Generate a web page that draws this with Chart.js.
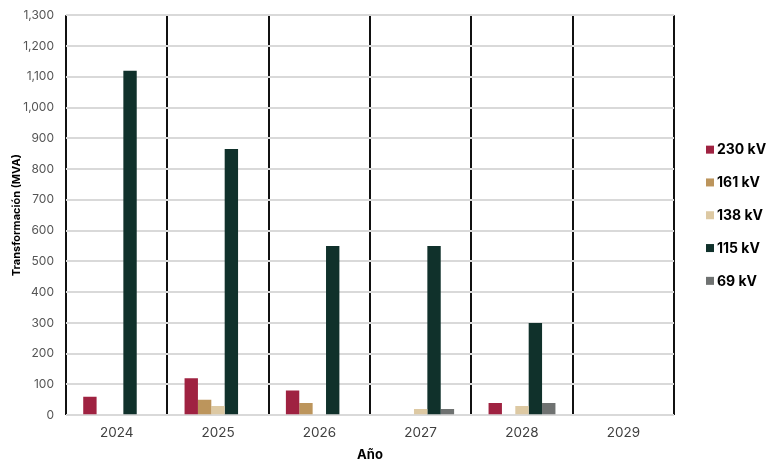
<!DOCTYPE html>
<html>
<head>
<meta charset="utf-8">
<script src="https://cdn.jsdelivr.net/npm/chart.js@4"></script>
<style>
  html, body { margin: 0; padding: 0; background: #ffffff; }
  #wrap { width: 769px; height: 461px; position: relative; }
</style>
</head>
<body>
<div id="wrap"><canvas id="chart" width="769" height="461"></canvas></div>
<script>
// Transformation capacity additions by voltage level (MVA)
const years = ['2024', '2025', '2026', '2027', '2028', '2029'];
const kv230 = [60, 120, 80, 0, 40, 0];
const kv161 = [0, 50, 40, 0, 0, 0];
const kv138 = [0, 30, 0, 20, 30, 0];
const kv115 = [1120, 865, 550, 550, 300, 0];
const kv69  = [0, 0, 0, 20, 40, 0];
const seriesLabels = ['230 kV', '161 kV', '138 kV', '115 kV', '69 kV'];
const seriesColors = ['#9f2241', '#bc955c', '#ddc9a3', '#10312b', '#6f7271'];
const yTicks = [0, 100, 200, 300, 400, 500, 600, 700, 800, 900, 1000, 1100, 1200, 1300];

const FONT = 'Inter, "DejaVu Sans", sans-serif';
const seriesValues = [kv230, kv161, kv138, kv115, kv69];

// Legend drawn to the right of the plot, vertically centred on it
const sideLegend = {
  id: 'sideLegend',
  afterDraw(chart) {
    const { ctx, chartArea } = chart;
    const sets = chart.data.datasets;
    const mid = (chartArea.top + chartArea.bottom) / 2;
    const step = 32.8;
    const x0 = chartArea.right + 32;
    ctx.save();
    ctx.font = 'bold 14px ' + FONT;
    ctx.textBaseline = 'middle';
    ctx.textAlign = 'left';
    sets.forEach((ds, i) => {
      const y = mid + (i - (sets.length - 1) / 2) * step;
      ctx.fillStyle = ds.backgroundColor;
      ctx.fillRect(x0, y - 4, 8, 8);
      ctx.fillStyle = '#000000';
      ctx.fillText(ds.label, x0 + 11, y + 0.5);
    });
    ctx.restore();
  }
};

new Chart(document.getElementById('chart'), {
  type: 'bar',
  data: {
    labels: years,
    datasets: seriesValues.map((vals, i) => ({
      label: seriesLabels[i],
      data: vals,
      backgroundColor: seriesColors[i],
      borderWidth: 0,
      categoryPercentage: 0.66,
      barPercentage: 1.0
    }))
  },
  plugins: [sideLegend],
  options: {
    responsive: false,
    animation: false,
    layout: { autoPadding: false, padding: { top: 15, right: 95, bottom: -2, left: 10 } },
    plugins: {
      tooltip: { enabled: false },
      legend: { display: false }
    },
    scales: {
      x: {
        grid: {
          offset: true,
          color: '#111111',
          lineWidth: 2,
          drawTicks: false
        },
        border: { display: false },
        ticks: {
          color: '#404040',
          padding: 10,
          font: { family: FONT, size: 13.5 }
        },
        title: {
          display: true,
          text: 'Año',
          color: '#000000',
          padding: { top: -4, bottom: 0 },
          font: { family: FONT, size: 13, weight: 'bold' }
        }
      },
      y: {
        min: 0,
        max: 1300,
        afterBuildTicks: (axis) => { axis.ticks = yTicks.map(v => ({ value: v })); },
        grid: {
          color: '#d9d9d9',
          lineWidth: 2,
          drawTicks: false
        },
        border: { display: false },
        ticks: {
          color: '#555555',
          padding: 12,
          font: { family: FONT, size: 12, lineHeight: 0.55 },
          callback: (v) => v.toLocaleString('en-US')
        },
        title: {
          display: true,
          text: 'Transformación (MVA)',
          color: '#000000',
          padding: { top: 0, bottom: -12 },
          font: { family: FONT, size: 11, weight: 'bold' }
        }
      }
    }
  }
});
</script>
</body>
</html>
